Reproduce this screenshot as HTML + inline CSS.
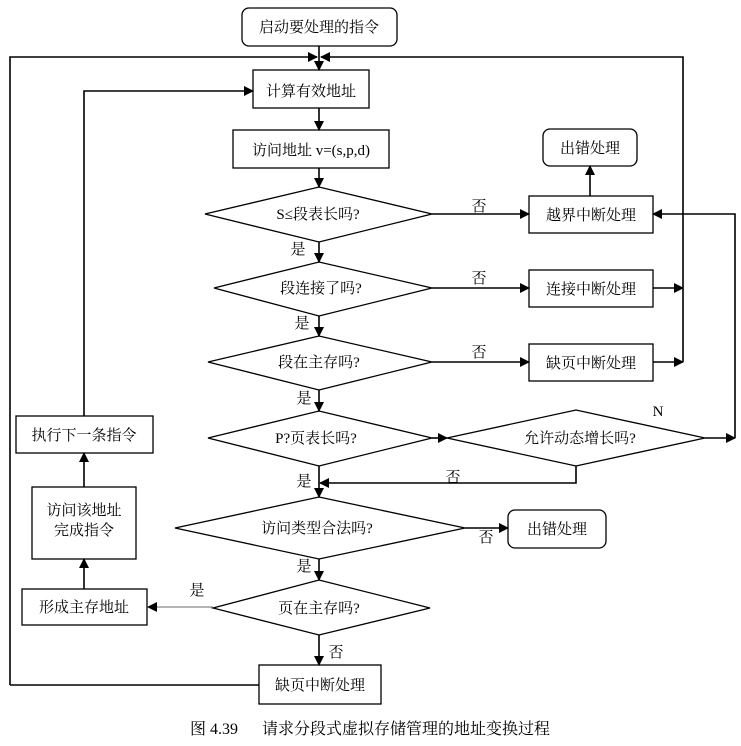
<!DOCTYPE html>
<html><head><meta charset="utf-8"><style>
html,body{margin:0;padding:0;background:#fff;}
svg{display:block;}
text{font-family:"Liberation Serif","Noto Serif CJK SC","Noto Sans CJK SC",serif;font-size:15px;fill:#000;}
</style></head><body>
<svg width="741" height="746" viewBox="0 0 741 746" xmlns="http://www.w3.org/2000/svg">
<defs><marker id="a" markerWidth="10" markerHeight="10" refX="9" refY="5" orient="auto" markerUnits="userSpaceOnUse"><path d="M0,0 L10,5 L0,10 z" fill="#000"/></marker></defs>
<g fill="none" stroke="#000" stroke-width="1.3">
<rect x="242" y="8" width="155" height="38" rx="7"/>
<rect x="253" y="70" width="116" height="38"/>
<rect x="233" y="130" width="156" height="38"/>
<rect x="543" y="129" width="94" height="37" rx="7"/>
<rect x="529" y="196" width="124" height="37"/>
<rect x="529" y="270" width="124" height="37"/>
<rect x="529" y="344" width="124" height="37"/>
<rect x="508" y="510" width="98" height="38" rx="7"/>
<rect x="16" y="416" width="137" height="37"/>
<rect x="32" y="487" width="104" height="72"/>
<rect x="22" y="589" width="125" height="36"/>
<rect x="259" y="665" width="122" height="39"/>
<polygon points="205,214 319,187 432,214 319,242"/>
<polygon points="214,288 319,262 432,288 319,316"/>
<polygon points="208,362 319,336 432,362 319,390"/>
<polygon points="208,438 319,411 432,438 319,466"/>
<polygon points="447,438 576,410 705,438 576,466"/>
<polygon points="175,528 319,497 465,528 319,559"/>
<polygon points="213,608 319,580 430,608 319,635"/>
</g>
<g fill="none" stroke="#000" stroke-width="1.6">
<line x1="319" y1="46" x2="319" y2="70" marker-end="url(#a)"/>
<polyline points="10,685 10,57 317,57" marker-end="url(#a)"/>
<polyline points="683,362 683,57 321,57" marker-end="url(#a)"/>
<polyline points="84,416 84,91 253,91" marker-end="url(#a)"/>
<line x1="319" y1="108" x2="319" y2="130" marker-end="url(#a)"/>
<line x1="319" y1="168" x2="319" y2="187" marker-end="url(#a)"/>
<line x1="319" y1="242" x2="319" y2="262" marker-end="url(#a)"/>
<line x1="319" y1="316" x2="319" y2="336" marker-end="url(#a)"/>
<line x1="319" y1="390" x2="319" y2="411" marker-end="url(#a)"/>
<line x1="319" y1="466" x2="319" y2="497" marker-end="url(#a)"/>
<line x1="319" y1="559" x2="319" y2="580" marker-end="url(#a)"/>
<line x1="319" y1="635" x2="319" y2="665" marker-end="url(#a)"/>
<line x1="432" y1="214" x2="529" y2="214" marker-end="url(#a)"/>
<line x1="432" y1="288" x2="529" y2="288" marker-end="url(#a)"/>
<line x1="432" y1="362" x2="529" y2="362" marker-end="url(#a)"/>
<line x1="590" y1="196" x2="590" y2="166" marker-end="url(#a)"/>
<line x1="653" y1="288" x2="683" y2="288" marker-end="url(#a)"/>
<line x1="653" y1="362" x2="683" y2="362" marker-end="url(#a)"/>
<line x1="432" y1="438" x2="447" y2="438" marker-end="url(#a)"/>
<line x1="705" y1="438" x2="735" y2="438" marker-end="url(#a)"/>
<polyline points="735,438 735,214 653,214" marker-end="url(#a)"/>
<polyline points="576,466 576,483 320,483" marker-end="url(#a)"/>
<line x1="465" y1="528" x2="508" y2="528" marker-end="url(#a)"/>
<line x1="84" y1="589" x2="84" y2="559" marker-end="url(#a)"/>
<line x1="84" y1="487" x2="84" y2="453" marker-end="url(#a)"/>
<line x1="259" y1="685" x2="10" y2="685"/>
</g>
<line x1="213" y1="607" x2="149" y2="607" stroke="#888" stroke-width="1.3"/>
<path d="M147,607 L157,602 L157,612 z" fill="#000"/>
<g text-anchor="middle">
<text x="319" y="32">启动要处理的指令</text>
<text x="311" y="96">计算有效地址</text>
<text x="311" y="155">访问地址 v=(s,p,d)</text>
<text x="590" y="153">出错处理</text>
<text x="318" y="219">S≤段表长吗?</text>
<text x="591" y="220">越界中断处理</text>
<text x="321" y="293">段连接了吗?</text>
<text x="591" y="294">连接中断处理</text>
<text x="319" y="367">段在主存吗?</text>
<text x="591" y="368">缺页中断处理</text>
<text x="316" y="443">P?页表长吗?</text>
<text x="580" y="443">允许动态增长吗?</text>
<text x="317" y="533">访问类型合法吗?</text>
<text x="557" y="534">出错处理</text>
<text x="319" y="613">页在主存吗?</text>
<text x="84" y="440">执行下一条指令</text>
<text x="84" y="515">访问该地址</text>
<text x="84" y="535">完成指令</text>
<text x="84" y="612">形成主存地址</text>
<text x="320" y="690">缺页中断处理</text>
<text x="479" y="211">否</text>
<text x="479" y="283">否</text>
<text x="479" y="357">否</text>
<text x="298" y="254">是</text>
<text x="302" y="328">是</text>
<text x="304" y="403">是</text>
<text x="658" y="416">N</text>
<text x="453" y="482">否</text>
<text x="304" y="486">是</text>
<text x="486" y="542">否</text>
<text x="304" y="571">是</text>
<text x="197" y="595">是</text>
<text x="336" y="657">否</text>
</g>
<text x="190" y="734" style="font-size:16px">图 4.39</text>
<text x="262" y="734" style="font-size:16px">请求分段式虚拟存储管理的地址变换过程</text>
</svg>
</body></html>
